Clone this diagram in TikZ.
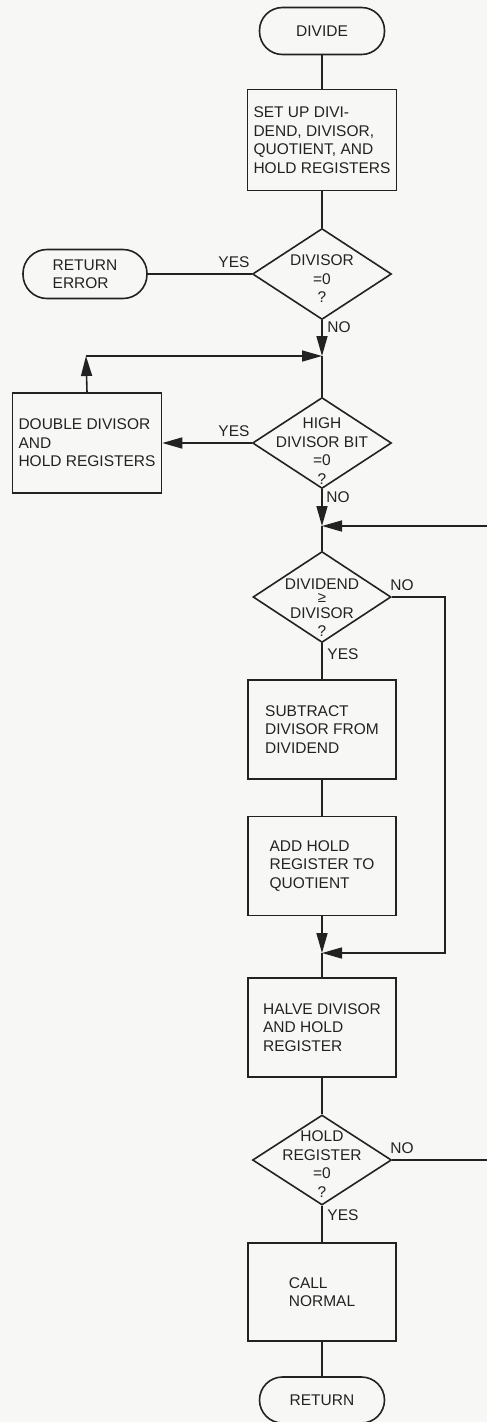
\documentclass[tikz,border=0pt]{standalone}
\usepackage{fontspec}
\setmainfont{Liberation Sans}
\definecolor{ink}{HTML}{222222}
\definecolor{paper}{HTML}{F7F7F5}
\usetikzlibrary{shapes.geometric, arrows.meta, calc}

\tikzset{
  chart/.style={x=1pt, y=-1pt, line width=1.6pt, draw=ink, text=ink,
                font=\fontsize{15.5}{18.5}\selectfont},
  terminal/.style={draw=ink, rectangle, rounded corners=23pt,
                   minimum width=125pt, minimum height=47pt, inner sep=0pt},
  procbox/.style={draw=ink, rectangle, minimum width=148pt,
                  minimum height=99pt, align=left, inner sep=0pt},
  decision/.style={draw=ink, diamond, minimum width=139pt,
                   minimum height=91pt, inner sep=0pt},
  qtext/.style={align=center, inner sep=0pt},
  tag/.style={inner sep=0pt},
  flow/.style={-{Triangle[length=20pt, width=11pt]}},
}

\begin{document}
\begin{tikzpicture}[chart]
  \fill[paper] (0,0) rectangle (487,1422);
  \useasboundingbox (0,0) rectangle (487,1422);

  % main column
  \node[terminal] (start) at (322,31) {DIVIDE};
  \node[procbox, minimum width=149pt, minimum height=101pt] (setup) at (322,140)
    {SET UP DIVI-\\DEND, DIVISOR,\\QUOTIENT, AND\\HOLD REGISTERS};
  \node[decision] (q1) at (322,274) {};
  \node[qtext] (q1t) at ($(q1)+(0,5)$) {DIVISOR\\=0\\?};
  \node[terminal, minimum width=124pt, minimum height=49pt, rounded corners=24pt,
        align=left] (reterr) at (85,274) {RETURN\\ERROR};
  \coordinate (j1) at (322,356);
  \coordinate (c1) at (86,356);
  \node[decision] (q2) at (322,443) {};
  \node[qtext] (q2t) at ($(q2)+(0,8)$) {HIGH\\DIVISOR BIT\\=0\\?};
  \node[procbox, minimum width=149pt, minimum height=100pt] (dbl) at (87,443)
    {DOUBLE DIVISOR\\AND\\HOLD REGISTERS};
  \coordinate (j2) at (322,526);
  \coordinate (loopR) at (487,526);
  \node[decision, minimum width=138pt] (q3) at (322,597) {};
  \node[qtext] (q3t) at ($(q3)+(0,11)$) {DIVIDEND\\[10pt]DIVISOR\\?};
  \node[tag, font=\fontsize{15}{15}\selectfont] (q3ge) at (322,598) {≥};
  \coordinate (r1) at (445,597);
  \node[procbox] (sub) at (322,729.5) {SUBTRACT\\DIVISOR FROM\\DIVIDEND};
  \node[procbox] (add) at (322,866) {ADD HOLD\\REGISTER TO\\QUOTIENT};
  \coordinate (j3) at (322,953);
  \node[procbox] (halve) at (322,1027.5) {HALVE DIVISOR\\AND HOLD\\REGISTER};
  \node[decision, minimum height=90pt] (q4) at (322,1160) {};
  \node[qtext] (q4t) at ($(q4)+(0,4)$) {HOLD\\REGISTER\\=0\\?};
  \coordinate (noR) at (487,1160);
  \node[procbox, minimum height=98pt] (call) at (322,1292) {CALL\\NORMAL};
  \node[terminal, minimum height=46pt] (ret) at (322,1400) {RETURN};

  % yes / no tags
  \node[tag] (y1) at (234,262) {YES};
  \node[tag] (n1) at (339,327) {NO};
  \node[tag] (y2) at (234,431) {YES};
  \node[tag] (n2) at (338,497) {NO};
  \node[tag] (n3) at (402,585) {NO};
  \node[tag] (y3) at (343,654) {YES};
  \node[tag] (n4) at (402,1148) {NO};
  \node[tag] (y4) at (343,1215) {YES};

  % connectors
  \draw (start) -- (setup);
  \draw (setup) -- (q1);
  \draw (q1.west) -- (reterr.east);
  \draw[flow] (q1.south) -- (j1);
  \draw (j1) -- (q2.north);
  \draw[flow] (q2.west) -- (dbl.east);
  \draw[flow] (dbl.north) -- (c1);
  \draw[flow] (c1) -- (j1);
  \draw[flow] (q2.south) -- (j2);
  \draw[flow] (loopR) -- (j2);
  \draw (j2) -- (q3.north);
  \draw (q3.south) -- (sub.north);
  \draw[flow] (q3.east) -- (r1) |- (j3);
  \draw (sub) -- (add);
  \draw[flow] (add.south) -- (j3);
  \draw (j3) -- (halve.north);
  \draw (halve) -- (q4);
  \draw (q4.east) -- (noR);
  \draw (q4.south) -- (call.north);
  \draw (call) -- (ret);
\end{tikzpicture}
\end{document}
